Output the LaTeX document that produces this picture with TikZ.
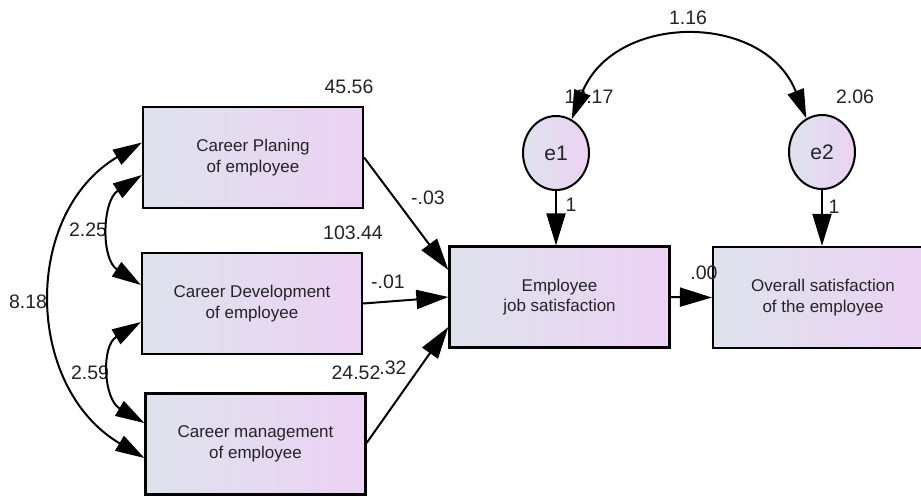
\documentclass[tikz,border=0pt]{standalone}
\usepackage{fontspec}
\setmainfont{Liberation Sans}
\usetikzlibrary{arrows.meta,calc,shapes.geometric}
\definecolor{boxL}{RGB}{222,226,237}
\definecolor{boxR}{RGB}{236,210,243}
\definecolor{txt}{RGB}{35,35,40}
\tikzset{
  box/.style={draw=black, line width=2.2pt, rectangle, minimum width=220pt, minimum height=101pt,
    left color=boxL, right color=boxR, align=center, text=txt,
    font=\fontsize{17}{20.5}\selectfont, inner sep=0pt},
  err/.style={draw=black, line width=2pt, ellipse, minimum width=66pt, minimum height=74pt,
    left color=boxL, right color=boxR, text=txt, font=\fontsize{21}{24}\selectfont, inner sep=0pt},
  lbl/.style={font=\fontsize{19.5}{22}\selectfont, text=txt, inner sep=0pt},
  arr/.style={line width=2pt, -{Triangle[length=32pt,width=19pt]}},
  dbl/.style={line width=2pt, {Triangle[length=29pt,width=17pt]}-{Triangle[length=29pt,width=17pt]}},
}
\begin{document}
\begin{tikzpicture}[x=1pt,y=-1pt]
\useasboundingbox (0,0) rectangle (921,496);
\clip (0,0) rectangle (921,496);
\fill[white] (0,0) rectangle (921,496);
% boxes
\node[box] (cp) at (253,157.5) {Career Planing\\of employee};
\node[box] (cd) at (252,303.5) {Career Development\\of employee};
\node[box] (cm) at (255.5,444) {Career management\\of employee};
\node[box] (ejs) at (559.5,297) {Employee\\job satisfaction};
\node[box] (os) at (823,297.5) {Overall satisfaction\\of the employee};
\node[err] (e1) at (556,153) {e1};
\node[err] (e2) at (822,152) {e2};
% labels
\node[lbl] (l1) at (349,87) {45.56};
\node[lbl] (l2) at (353,233) {103.44};
\node[lbl] (l3) at (428,198) {-.03};
\node[lbl] (l4) at (388,282) {-.01};
\node[lbl] (l5) at (356,373) {24.52};
\node[lbl] (l6) at (393,368) {.32};
\node[lbl] (l7) at (28,302) {8.18};
\node[lbl] (l8) at (88,230) {2.25};
\node[lbl] (l9) at (90,373) {2.59};
\node[lbl] (l10) at (704,273) {.00};
\node[lbl] (l11) at (688,18) {1.16};
\node[lbl] (l12) at (589,97) {13.17};
\node[lbl] (l13) at (855,97) {2.06};
\node[lbl] (l14) at (571,205) {1};
\node[lbl] (l15) at (834,207) {1};
% regression arrows
\draw[arr] (cp.east) -- ($(ejs.west)+(0,-27)$);
\draw[arr] (cd.east) -- (ejs.west);
\draw[arr] ($(cm.east)+(0,-1)$) -- ($(ejs.west)+(0,30)$);
\draw[arr] (ejs.east) -- (os.west);
\draw[arr] (e1.south) -- (e1.south |- ejs.north);
\draw[arr] (e2.south) -- (e2.south |- os.north);
% covariances
\draw[dbl] ($(cp.west)+(0,-15)$) .. controls +(-120,71) and +(-120,-71) .. ($(cm.west)+(0,14)$);
\draw[dbl] ($(cp.west)+(0,17.5)$) .. controls +(-40,26) and +(-40,-26) .. ($(cd.west)+(0,-18.5)$);
\draw[dbl] ($(cd.west)+(0,18.5)$) .. controls +(-40,24) and +(-41,-24) .. ($(cm.west)+(0,-21)$);
\draw[dbl] (e1.65) .. controls +(42,-107) and +(-42,-107) .. (e2.115);
\end{tikzpicture}
\end{document}
